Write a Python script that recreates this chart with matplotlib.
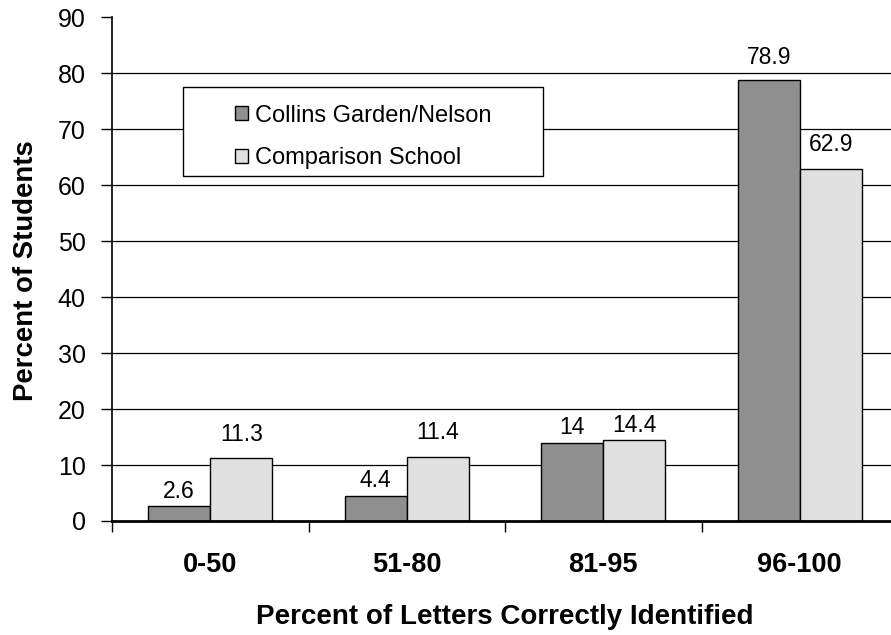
import numpy as np
import matplotlib
matplotlib.use("Agg")
import matplotlib.pyplot as plt
from matplotlib.patches import Rectangle

plt.rcParams['font.family'] = ['Liberation Sans', 'DejaVu Sans']

# data
categories = ["0-50", "51-80", "81-95", "96-100"]
series_names = ["Collins Garden/Nelson", "Comparison School"]
collins = [2.6, 4.4, 14, 78.9]
comparison = [11.3, 11.4, 14.4, 62.9]
y_ticks = [0, 10, 20, 30, 40, 50, 60, 70, 80, 90]

# label offsets above bar tops (points), picked to match the picture
off_dark = [10.5, 11.5, 11, 16]
off_light = [17, 18, 11, 17.5]

DARK = "#8f8f8f"
LIGHT = "#e0e0e0"

fig = plt.figure(figsize=(8.91, 6.35), dpi=100)
# axes runs a little past the right edge, like the cropped original
ax = fig.add_axes([112 / 891, 114 / 635, 786 / 891, 503.6 / 635])

x = np.arange(len(categories))
w = 0.316
b1 = ax.bar(x - w / 2, collins, w, color=DARK, edgecolor="black", linewidth=1, zorder=3)
b2 = ax.bar(x + w / 2, comparison, w, color=LIGHT, edgecolor="black", linewidth=1, zorder=3)

for bars, vals, offs in ((b1, collins, off_dark), (b2, comparison, off_light)):
    for rect, v, o in zip(bars, vals, offs):
        ax.annotate(f"{v:g}", (rect.get_x() + rect.get_width() / 2, v),
                    xytext=(0, o), textcoords="offset points",
                    ha="center", va="center", fontsize=16.5)

ax.set_xlim(-0.5, len(categories) - 0.5)
ax.set_ylim(0, 90)

# gridlines 10..80 only
for t in y_ticks[1:-1]:
    ax.axhline(t, color="black", linewidth=0.9, zorder=1)

ax.set_yticks(y_ticks)
ax.tick_params(axis="y", direction="out", length=8, width=1, pad=11, labelsize=18)

# category separators as major ticks, names as minor ticks
ax.set_xticks(np.arange(len(categories) + 1) - 0.5)
ax.set_xticklabels([])
ax.set_xticks(x, minor=True)
ax.set_xticklabels(categories, minor=True, fontweight="bold", fontsize=19.5)
ax.tick_params(axis="x", which="major", direction="out", length=8, width=1)
ax.tick_params(axis="x", which="minor", length=0, pad=22.5)

for s in ("top", "right"):
    ax.spines[s].set_visible(False)
ax.spines["left"].set_linewidth(1.2)
ax.spines["bottom"].set_linewidth(2)
ax.spines["bottom"].set_zorder(4)

fig.text(25.6 / 891, 1 - 270.5 / 635, "Percent of Students", rotation=90,
         ha="center", va="center", fontweight="bold", fontsize=19.8)
fig.text(505 / 891, 1 - 617 / 635, "Percent of Letters Correctly Identified",
         ha="center", va="center", fontweight="bold", fontsize=20)

# legend box drawn separately so its padding can be wide
ax.add_patch(Rectangle((0.090, 0.686), 0.458, 0.175, transform=ax.transAxes,
                       facecolor="white", edgecolor="black", linewidth=1, zorder=5))
leg = ax.legend([b1, b2], series_names, loc="upper left", bbox_to_anchor=(0.1565, 0.827),
                frameon=False, fontsize=17, borderpad=0, borderaxespad=0,
                handlelength=0.55, handleheight=0.55, handletextpad=0.3, labelspacing=0.88)
leg.set_zorder(6)

fig.savefig("out.png", dpi=100)
